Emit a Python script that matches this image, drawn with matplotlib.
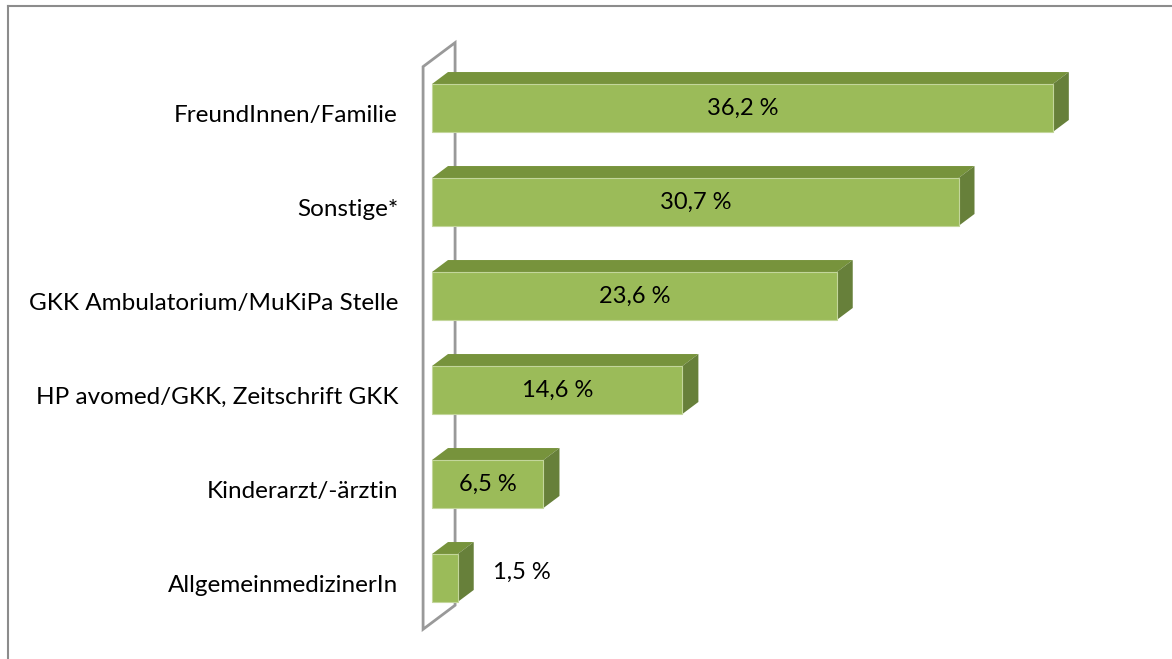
import matplotlib
matplotlib.use("Agg")
import matplotlib.pyplot as plt
from matplotlib.patches import Polygon

plt.rcParams['font.family'] = ['Lato', 'DejaVu Sans']

# data
categories = ["FreundInnen/Familie", "Sonstige*", "GKK Ambulatorium/MuKiPa Stelle",
              "HP avomed/GKK, Zeitschrift GKK", "Kinderarzt/-ärztin", "AllgemeinmedizinerIn"]
values = [36.2, 30.7, 23.6, 14.6, 6.5, 1.5]

front_col = "#9BBB59"
top_col = "#77933C"
side_col = "#67803A"

W, H = 1172, 659
fig = plt.figure(figsize=(W / 100, H / 100), dpi=100)
ax = fig.add_axes([0, 0, 1, 1])
# pixel layout: 0 % at x=432, 17.15 px per %, bars 94 px apart starting at y=108
px_per = 17.15
ax.set_xlim(-432 / px_per, (W - 432) / px_per)
ax.set_ylim((H - 108) / 94, -108 / 94)
ax.axis("off")

bh = 0.51          # bar height (front face)
dx = 16 / px_per   # depth offset, x
dy = -12 / 94      # depth offset, y (up)

# back wall
wx = -0.52
wall = [(wx, -0.44), (wx + 2 * dx, -0.44 + 2 * dy), (wx + 2 * dx, 5.29), (wx, 5.29 - 2 * dy)]
ax.add_patch(Polygon(wall, closed=True, fill=False, edgecolor="#999999", lw=2, zorder=1))

for i, (cat, v) in enumerate(zip(categories, values)):
    y0, y1 = i - bh / 2, i + bh / 2
    top = [(0, y0), (dx, y0 + dy), (v + dx, y0 + dy), (v, y0)]
    side = [(v, y0), (v + dx, y0 + dy), (v + dx, y1 + dy), (v, y1)]
    ax.add_patch(Polygon(top, closed=True, facecolor=top_col, edgecolor="none", zorder=2))
    ax.add_patch(Polygon(side, closed=True, facecolor=side_col, edgecolor="none", zorder=2))
    ax.barh(i, v, height=bh, left=0, color=front_col, edgecolor="#C3D69B", lw=0.8, zorder=3)
    lab = f"{v:.1f}".replace(".", ",") + " %"
    if v > 4:
        ax.text(v / 2, i, lab, ha="center", va="center", fontsize=17, color="black", zorder=4)
    else:
        ax.text(v + dx + 1.13, i - 0.06, lab, ha="left", va="center", fontsize=17, color="black", zorder=4)
    ax.text(-34 / px_per, i + 0.08, cat, ha="right", va="center", fontsize=17.5, color="black")

# chart frame (left and top edges visible)
fig.add_artist(plt.Line2D([8 / W, 8 / W], [0, 1 - 6 / H], color="#8C8C8C", lw=1.5))
fig.add_artist(plt.Line2D([8 / W, 1], [1 - 6 / H, 1 - 6 / H], color="#8C8C8C", lw=1.5))

fig.savefig("out.png", dpi=100)
